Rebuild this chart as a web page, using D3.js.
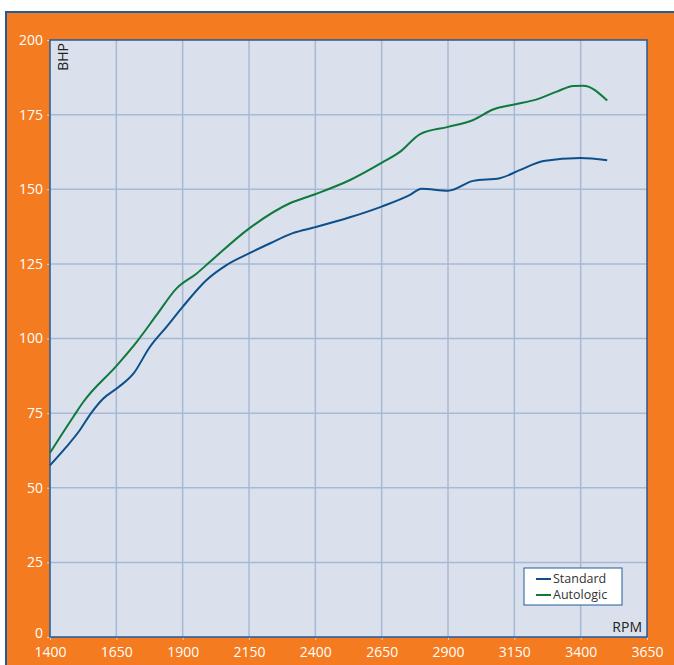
<!DOCTYPE html>
<html>
<head>
<meta charset="utf-8">
<script src="https://cdn.jsdelivr.net/npm/d3@7"></script>
<style>
  body { margin: 0; background: #fff; }
  svg { display: block; font-family: "Open Sans", "Noto Sans", sans-serif; }
</style>
</head>
<body>
<svg id="chart" width="674" height="665"></svg>
<script>
// values
const rpmTicks = [1400, 1650, 1900, 2150, 2400, 2650, 2900, 3150, 3400, 3650];
const bhpTicks = [0, 25, 50, 75, 100, 125, 150, 175, 200];

const standardRpm = [1400, 1460, 1510, 1555, 1600, 1660, 1715, 1775, 1840, 1900, 1990, 2065, 2150, 2230, 2315, 2400, 2530, 2650, 2755, 2800, 2900, 2995, 3095, 3170, 3260, 3400, 3500];
const standardBhp = [57.5, 63.5, 69, 75, 79.8, 83.8, 88.3, 97, 104, 110.6, 119.6, 124.6, 128.5, 131.9, 135.3, 137.3, 140.6, 144.2, 148, 150.2, 149.5, 152.8, 153.7, 156.4, 159.5, 160.5, 159.7];

const autologicRpm = [1400, 1488, 1526, 1653, 1727, 1802, 1877, 1953, 2003, 2151, 2304, 2401, 2531, 2651, 2720, 2795, 2900, 2995, 3070, 3150, 3235, 3310, 3372, 3410, 3500];
const autologicBhp = [61.7, 73.8, 78.8, 91.1, 98.9, 107.9, 116.8, 121.8, 125.7, 136.9, 145.3, 148.4, 153.1, 158.9, 162.6, 168.5, 170.9, 173.2, 176.7, 178.4, 180.1, 182.7, 184.6, 184.7, 179.7];

const seriesNames = ["Standard", "Autologic"];
const seriesColors = ["#0d4f8b", "#0e7a3c"];

const svg = d3.select("#chart");
const margin = { left: 50, top: 40, right: 647, bottom: 637 };

// orange frame
svg.append("rect")
  .attr("x", 6).attr("y", 12)
  .attr("width", 674).attr("height", 670)
  .attr("fill", "#f47b20")
  .attr("stroke", "#1f5c99")
  .attr("stroke-width", 2);

const x = d3.scaleLinear().domain([1400, 3650]).range([margin.left, margin.right]);
const y = d3.scaleLinear().domain([0, 200]).range([margin.bottom, margin.top]);

svg.append("rect")
  .attr("x", margin.left).attr("y", margin.top)
  .attr("width", margin.right - margin.left)
  .attr("height", margin.bottom - margin.top)
  .attr("fill", "#dae1ec");

// grid
const grid = svg.append("g").attr("stroke", "#a8b9d6").attr("stroke-width", 1.5);
grid.selectAll("line.v")
  .data(rpmTicks.slice(1, -1))
  .enter().append("line")
  .attr("x1", (d) => x(d)).attr("x2", (d) => x(d))
  .attr("y1", margin.top).attr("y2", margin.bottom);
grid.selectAll("line.h")
  .data(bhpTicks.slice(1, -1))
  .enter().append("line")
  .attr("x1", margin.left).attr("x2", margin.right)
  .attr("y1", (d) => y(d)).attr("y2", (d) => y(d));

// axes
const xAxis = svg.append("g")
  .attr("transform", `translate(0,${margin.bottom})`)
  .call(d3.axisBottom(x).tickValues(rpmTicks).tickSize(3).tickPadding(7).tickFormat(d3.format("d")));
const yAxis = svg.append("g")
  .attr("transform", `translate(${margin.left},0)`)
  .call(d3.axisLeft(y).tickValues(bhpTicks).tickSize(3).tickPadding(4));

[xAxis, yAxis].forEach((a) => {
  a.select(".domain").remove();
  a.selectAll(".tick line").attr("stroke", "#c9d3e6");
  a.selectAll(".tick text")
    .attr("fill", "#fff")
    .attr("font-size", 14)
    .attr("font-family", "Open Sans, Noto Sans, sans-serif");
});
// the zero label sits a touch above the x labels
yAxis.selectAll(".tick text").filter((d) => d === 0).attr("dy", "0.05em");

// plot border
svg.append("rect")
  .attr("x", margin.left).attr("y", margin.top)
  .attr("width", margin.right - margin.left)
  .attr("height", margin.bottom - margin.top)
  .attr("fill", "none")
  .attr("stroke", "#1f5c99")
  .attr("stroke-width", 1.5);

// lines
const series = [
  d3.zip(standardRpm, standardBhp),
  d3.zip(autologicRpm, autologicBhp),
];
const line = d3.line()
  .x((d) => x(d[0]))
  .y((d) => y(d[1]))
  .curve(d3.curveMonotoneX);

svg.append("g")
  .selectAll("path")
  .data(series)
  .enter().append("path")
  .attr("d", line)
  .attr("fill", "none")
  .attr("stroke", (d, i) => seriesColors[i])
  .attr("stroke-width", 2);

// axis titles
svg.append("text")
  .attr("transform", "translate(68,43) rotate(-90)")
  .attr("text-anchor", "end")
  .attr("font-size", 14)
  .attr("fill", "#222")
  .text("BHP");
svg.append("text")
  .attr("x", 642).attr("y", 632)
  .attr("text-anchor", "end")
  .attr("font-size", 14)
  .attr("fill", "#222")
  .text("RPM");

// legend
const legend = svg.append("g");
legend.append("rect")
  .attr("x", 524).attr("y", 568)
  .attr("width", 98).attr("height", 37)
  .attr("fill", "#fff")
  .attr("stroke", "#1f5c99")
  .attr("stroke-width", 1);
const item = legend.selectAll("g")
  .data(seriesNames)
  .enter().append("g")
  .attr("transform", (d, i) => `translate(536,${579 + i * 16})`);
item.append("line")
  .attr("x1", 0).attr("x2", 15)
  .attr("stroke", (d, i) => seriesColors[i])
  .attr("stroke-width", 2);
item.append("text")
  .attr("x", 17).attr("dy", "0.35em")
  .attr("font-size", 12.5)
  .attr("fill", "#333")
  .text((d) => d);
</script>
</body>
</html>
